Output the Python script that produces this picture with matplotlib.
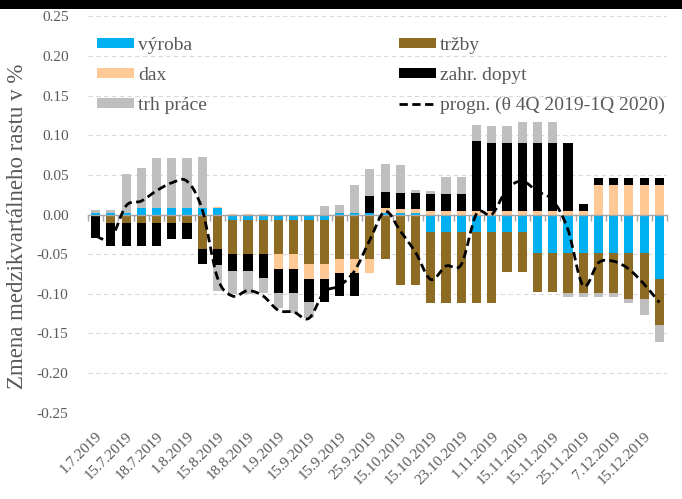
import numpy as np
import matplotlib
matplotlib.use("Agg")
import matplotlib.pyplot as plt
from matplotlib.path import Path
from matplotlib.patches import PathPatch, Rectangle, Patch
from matplotlib.lines import Line2D

plt.rcParams['font.family'] = ['Liberation Serif', 'DejaVu Serif']
plt.rcParams['axes.unicode_minus'] = False

tick_labels = ["1.7.2019", "15.7.2019", "18.7.2019", "1.8.2019", "15.8.2019",
               "18.8.2019", "1.9.2019", "15.9.2019", "15.9.2019", "25.9.2019",
               "15.10.2019", "15.10.2019", "23.10.2019", "1.11.2019", "15.11.2019",
               "15.11.2019", "25.11.2019", "7.12.2019", "15.12.2019"]

vyroba = [0.0013, 0.0013, 0.0013, 0.0076, 0.0076, 0.0076, 0.0076, 0.0076, 0.0076, -0.0071,
          -0.0071, -0.0071, -0.0071, -0.0071, -0.0071, -0.0071, 0.0021, 0.0021, 0.0021, 0.0015,
          0.0021, 0.0021, -0.0223, -0.0223, -0.0223, -0.0223, -0.0223, -0.0223, -0.0223, -0.0483,
          -0.0483, -0.0483, -0.0483, -0.0483, -0.0483, -0.0483, -0.0483, -0.0811]
trzby = [-0.0013, -0.0113, -0.0113, -0.0113, -0.0113, -0.0113, -0.0113, -0.0441, -0.0441, -0.0433,
         -0.0433, -0.0433, -0.0433, -0.0433, -0.0550, -0.0550, -0.0567, -0.0567, -0.0567, -0.0559,
         -0.0887, -0.0887, -0.0891, -0.0891, -0.0891, -0.0891, -0.0891, -0.0504, -0.0504, -0.0496,
         -0.0496, -0.0504, -0.0504, -0.0504, -0.0504, -0.0588, -0.0588, -0.0588]
dax = [0.0, 0.0, 0.0, 0.0, 0.0, 0.0, 0.001, 0.001, 0.0013, 0.001,
       0.001, 0.001, -0.018, -0.018, -0.0189, -0.0189, -0.0176, -0.0176, -0.0176, 0.0071,
       0.005, 0.005, 0.005, 0.005, 0.005, 0.005, 0.005, 0.005, 0.005, 0.005,
       0.005, 0.005, 0.005, 0.0366, 0.0366, 0.0366, 0.0366, 0.0366]
zahr_dopyt = [-0.028, -0.0286, -0.0286, -0.0286, -0.0286, -0.0193, -0.0193, -0.0189, -0.0197, -0.021,
              -0.021, -0.0294, -0.0303, -0.0303, -0.0294, -0.0294, -0.0286, -0.0286, 0.021, 0.0202,
              0.0202, 0.0202, 0.0206, 0.0206, 0.0206, 0.0874, 0.0853, 0.0853, 0.0853, 0.0853,
              0.0853, 0.0853, 0.0084, 0.0097, 0.0097, 0.0097, 0.0097, 0.0097]
trh_prace = [0.005, 0.005, 0.0504, 0.0513, 0.0643, 0.0643, 0.063, 0.0643, -0.0328, -0.0294,
             -0.0294, -0.0197, -0.0189, -0.0252, -0.0197, 0.0105, 0.0105, 0.0349, 0.0345, 0.0353,
             0.0353, 0.0042, 0.0042, 0.0218, 0.0218, 0.021, 0.021, 0.021, 0.0265, 0.0265,
             0.0265, -0.005, -0.005, -0.005, -0.005, -0.005, -0.0202, -0.021]
progn = [-0.027, -0.030, 0.011, 0.017, 0.030, 0.040, 0.042, 0.006, -0.080, -0.103,
         -0.096, -0.103, -0.121, -0.123, -0.131, -0.098, -0.090, -0.071, -0.032, 0.004,
         -0.021, -0.048, -0.082, -0.065, -0.063, 0.001, 0.000, 0.032, 0.042, 0.029,
         0.018, -0.019, -0.090, -0.061, -0.059, -0.069, -0.088, -0.111]

series_names = ["výroba", "tržby", "dax", "zahr. dopyt", "trh práce"]
series_vals = [vyroba, trzby, dax, zahr_dopyt, trh_prace]
series_cols = ["#00B0F0", "#8E6B23", "#FFC995", "#000000", "#BFBFBF"]
line_name = "progn. (θ 4Q 2019-1Q 2020)"

text_col = "#595959"
n = len(vyroba)
x = np.arange(n)

fig = plt.figure(figsize=(6.82, 4.99), dpi=100)
ax = fig.add_axes([88 / 682, 86 / 499, 579 / 682, 397 / 499])

pos_base = np.zeros(n)
neg_base = np.zeros(n)
handles = {}
for name, vals, col in zip(series_names, series_vals, series_cols):
    v = np.array(vals)
    bottoms = np.where(v >= 0, pos_base, neg_base)
    ax.bar(x, v, 0.6, bottom=bottoms, color=col, linewidth=0, zorder=3)
    pos_base = pos_base + np.where(v >= 0, v, 0)
    neg_base = neg_base + np.where(v < 0, v, 0)
    handles[name] = Patch(facecolor=col, edgecolor='none')

# smoothed dashed line (Catmull-Rom through the data points)
y = np.array(progn, dtype=float)
verts = [(x[0], y[0])]
codes = [Path.MOVETO]
for i in range(n - 1):
    p0 = np.array([x[max(i - 1, 0)], y[max(i - 1, 0)]])
    p1 = np.array([x[i], y[i]])
    p2 = np.array([x[i + 1], y[i + 1]])
    p3 = np.array([x[min(i + 2, n - 1)], y[min(i + 2, n - 1)]])
    c1 = p1 + (p2 - p0) / 6.0
    c2 = p2 - (p3 - p1) / 6.0
    verts += [tuple(c1), tuple(c2), tuple(p2)]
    codes += [Path.CURVE4] * 3
dash = (0, (3.0, 1.6))
ax.add_patch(PathPatch(Path(verts, codes), fill=False, edgecolor='black',
                       linewidth=2.0, linestyle=dash, capstyle='butt', zorder=5))
line_handle = Line2D([], [], color='black', linewidth=2.0, linestyle=dash)

ax.set_xlim(-0.5, n - 0.5)
ax.set_ylim(-0.2505, 0.2505)
yt = np.round(np.arange(-0.25, 0.2501, 0.05), 2)
ax.set_yticks(yt)
ax.set_yticklabels([f"{v:.2f}".replace("-0.00", "0.00") for v in yt])
ax.tick_params(axis='y', length=0, pad=14, labelsize=11, labelcolor=text_col)
ax.yaxis.grid(True, color='#D9D9D9', linestyle=(0, (4, 3)), linewidth=0.8, zorder=0)
ax.set_axisbelow(True)

for s in ['top', 'right', 'left']:
    ax.spines[s].set_visible(False)
ax.spines['bottom'].set_position(('data', 0))
ax.spines['bottom'].set_color('#A6A6A6')
ax.spines['bottom'].set_linewidth(1.0)
ax.spines['bottom'].set_zorder(4)
ax.set_xticks(np.arange(-0.5, n, 1.0))
ax.set_xticklabels([])
ax.tick_params(axis='x', direction='out', length=4, width=1.0, color='#A6A6A6')

sec = ax.secondary_xaxis('bottom')
sec.spines['bottom'].set_visible(False)
sec.set_xticks(x[::2])
sec.set_xticklabels(tick_labels, rotation=45, ha='right', rotation_mode='anchor')
sec.tick_params(axis='x', length=0, pad=12, labelsize=11, labelcolor=text_col)

ax.set_ylabel("Zmena medzikvartálneho rastu v %", fontsize=16.5, color=text_col)
ax.yaxis.set_label_coords((28 - 88) / 579, 0.47)

leg_handles = [handles["výroba"], handles["dax"], handles["trh práce"],
               handles["tržby"], handles["zahr. dopyt"], line_handle]
leg_labels = ["výroba", "dax", "trh práce", "tržby", "zahr. dopyt", line_name]
leg = fig.legend(leg_handles, leg_labels, ncol=2, loc='upper left',
                 bbox_to_anchor=(97 / 682, 1 - 37 / 499), frameon=False,
                 fontsize=14, handlelength=1.9, handleheight=0.45, handletextpad=0.2,
                 columnspacing=9.9, labelspacing=0.66, borderpad=0, borderaxespad=0)
for t in leg.get_texts():
    t.set_color(text_col)

fig.patches.append(Rectangle((0, 1 - 9 / 499), 1, 9 / 499, transform=fig.transFigure,
                             facecolor='black', edgecolor='none', zorder=10))

fig.savefig("out.png", dpi=100)
